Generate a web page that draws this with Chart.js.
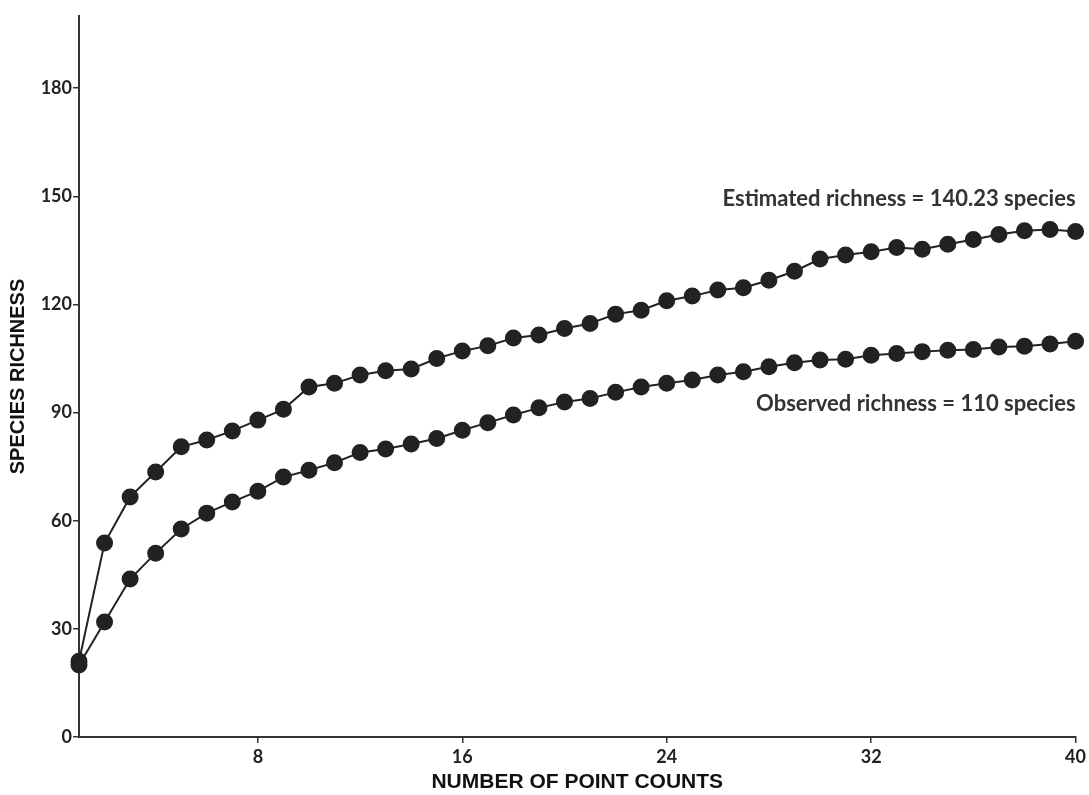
<!DOCTYPE html>
<html>
<head>
<meta charset="utf-8">
<script src="https://cdn.jsdelivr.net/npm/chart.js@4.4.1/dist/chart.umd.min.js"></script>
<style>
  html, body { margin: 0; padding: 0; background: #fff; }
  #wrap { width: 1089px; height: 795px; position: relative; }
</style>
</head>
<body>
<div id="wrap"><canvas id="grafico"></canvas></div>
<script>
// Dados (curvas de acumulação de espécies)
const pontos = [1, 2, 3, 4, 5, 6, 7, 8, 9, 10, 11, 12, 13, 14, 15, 16, 17, 18, 19, 20,
    21, 22, 23, 24, 25, 26, 27, 28, 29, 30, 31, 32, 33, 34, 35, 36, 37, 38, 39, 40];
const estimada = [21, 53.8, 66.6, 73.5, 80.5, 82.4, 84.9, 87.9, 90.9, 97.1,
    98.1, 100.4, 101.6, 102.1, 105.0, 107.1, 108.5, 110.7, 111.5, 113.3,
    114.7, 117.3, 118.4, 121.0, 122.3, 124.0, 124.6, 126.7, 129.2, 132.6,
    133.7, 134.6, 135.8, 135.3, 136.7, 138.0, 139.4, 140.4, 140.8, 140.2];
const observada = [20, 31.9, 43.8, 51.0, 57.7, 62.1, 65.2, 68.2, 72.1, 74.0,
    76.1, 78.9, 79.9, 81.3, 82.8, 85.1, 87.2, 89.3, 91.3, 92.9,
    93.9, 95.6, 97.1, 98.1, 99.0, 100.4, 101.3, 102.7, 103.8, 104.6,
    104.8, 105.9, 106.4, 106.9, 107.3, 107.5, 108.2, 108.4, 109.0, 109.8];
const ticksX = [8, 16, 24, 32, 40];
const ticksY = [0, 30, 60, 90, 120, 150, 180];
const textoEstimada = 'Estimated richness = 140.23 species';
const textoObservada = 'Observed richness = 110 species';

const corLinha = '#222222';
const fonteNum = 'Lato';

// Rótulos das curvas
const rotulos = {
    id: 'rotulos',
    afterDatasetsDraw(chart) {
        const { ctx, chartArea, scales } = chart;
        ctx.save();
        ctx.fillStyle = '#333333';
        ctx.font = 'bold 22px ' + fonteNum;
        ctx.textAlign = 'right';
        ctx.textBaseline = 'middle';
        ctx.fillText(textoEstimada, chartArea.right, scales.y.getPixelForValue(149.3));
        ctx.fillText(textoObservada, chartArea.right, scales.y.getPixelForValue(92.3));
        ctx.restore();
    }
};

const ctx = document.getElementById('grafico').getContext('2d');
new Chart(ctx, {
    type: 'line',
    data: {
        datasets: [{
            label: 'Estimated',
            data: pontos.map((x, i) => ({ x: x, y: estimada[i] })),
            borderColor: corLinha,
            backgroundColor: corLinha,
            borderWidth: 2,
            pointRadius: 7.5,
            pointHoverRadius: 7.5,
            tension: 0,
            clip: false
        }, {
            label: 'Observed',
            data: pontos.map((x, i) => ({ x: x, y: observada[i] })),
            borderColor: corLinha,
            backgroundColor: corLinha,
            borderWidth: 2,
            pointRadius: 7.5,
            pointHoverRadius: 7.5,
            tension: 0,
            clip: false
        }]
    },
    options: {
        responsive: true,
        maintainAspectRatio: false,
        animation: false,
        layout: { padding: { top: 16, right: 9, left: 0, bottom: 0 } },
        plugins: {
            legend: { display: false },
            tooltip: { enabled: false }
        },
        scales: {
            x: {
                type: 'linear',
                min: 1,
                max: 40,
                afterBuildTicks: axis => { axis.ticks = ticksX.map(v => ({ value: v })); },
                afterFit: axis => { axis.height = 58; },
                grid: { display: true, drawOnChartArea: false, drawTicks: true, tickLength: 6, color: '#333', lineWidth: 1.5 },
                border: { display: true, color: '#333', width: 2 },
                ticks: { color: '#222', padding: 3, maxRotation: 0, font: { family: fonteNum, size: 18, weight: 'bold' } },
                title: {
                    display: true,
                    text: 'NUMBER OF POINT COUNTS',
                    color: '#111',
                    padding: { top: 0, bottom: 0 },
                    font: { family: 'Liberation Sans', size: 21, weight: 'bold' }
                }
            },
            y: {
                type: 'linear',
                min: 0,
                max: 200,
                afterBuildTicks: axis => { axis.ticks = ticksY.map(v => ({ value: v })); },
                afterFit: axis => { axis.width = 79; },
                grid: { display: true, drawOnChartArea: false, drawTicks: true, tickLength: 6, color: '#333', lineWidth: 1.5 },
                border: { display: true, color: '#333', width: 2 },
                ticks: { color: '#222', padding: 1, font: { family: fonteNum, size: 18, weight: 'bold' } },
                title: {
                    display: true,
                    text: 'SPECIES RICHNESS',
                    color: '#111',
                    padding: { top: 6, bottom: 0 },
                    font: { family: 'Liberation Sans', size: 20, weight: 'bold' }
                }
            }
        }
    },
    plugins: [rotulos]
});
</script>
</body>
</html>
